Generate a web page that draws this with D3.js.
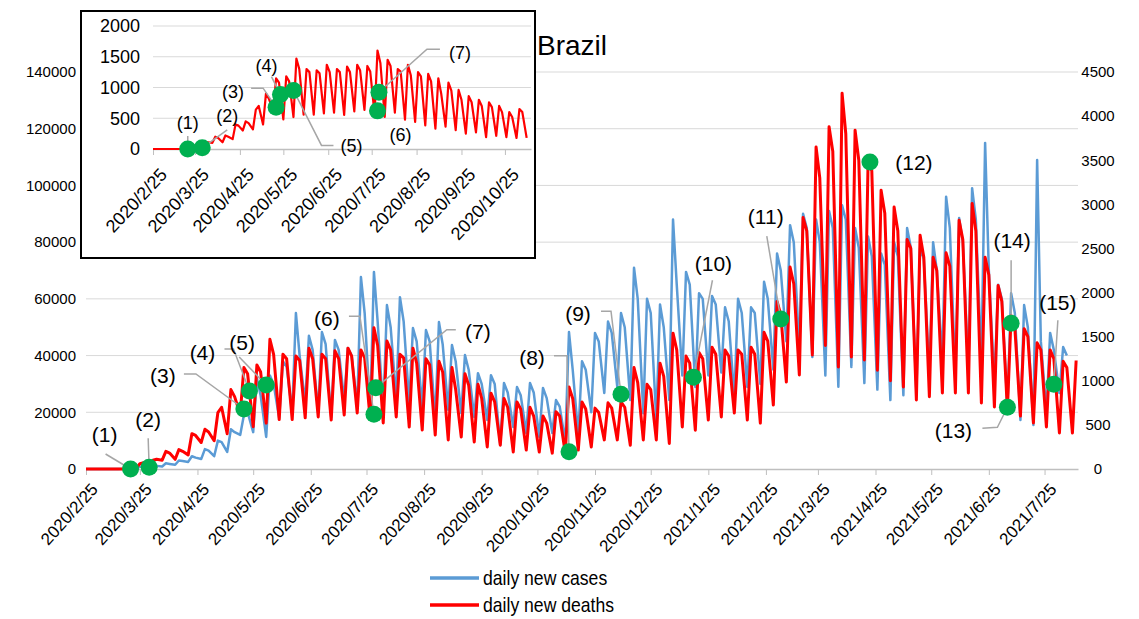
<!DOCTYPE html>
<html>
<head>
<meta charset="utf-8">
<title>Brazil</title>
<style>
  body{margin:0;background:#fff;}
  svg text{font-family:"Liberation Sans",Arial,sans-serif;fill:#000;}
  .grid line{stroke:#d9d9d9;stroke-width:1;}
  .lead{fill:none;stroke:#a6a6a6;stroke-width:1.5;}
</style>
</head>
<body>
<script src="https://d3js.org/d3.v7.min.js"></script>
<script>
// weekly readings, week 0 starts Sun 2020/2/23: low = Monday, high = Wednesday, high2 = Friday
var deathsHigh = [0,0,0,5,60,100,200,220,400,450,640,900,1150,1180,1470,1300,1280,1370,1300,1340,
  1370,1350,1600,1450,1300,1370,1250,1220,1150,1080,960,860,800,760,700,600,650,930,760,690,
  750,760,1150,960,1200,1540,1280,1320,1380,1350,1350,1380,1550,1900,2290,2850,3650,3880,4260,3840,
  3480,3160,2970,2600,2650,2400,2450,2820,3010,2400,2080,1740,1590,1430,1350,1220,1230];
var deathsHigh2 = [0,0,0,10,70,110,180,200,380,420,700,820,1080,1100,1300,1250,1230,1250,1250,1250,
  1280,1260,1400,1350,1260,1200,1180,1100,900,950,800,760,700,680,600,520,600,800,680,640,
  690,700,980,900,1050,1350,1200,1250,1300,1280,1300,1300,1450,1750,2100,2700,3300,3600,3800,3500,
  3380,2900,2700,2500,2400,2250,2300,2600,2700,2200,1900,1600,1500,1350,1250,1150];
var deathsLow = [0,0,0,0,10,40,100,110,160,300,320,400,620,480,520,560,560,580,590,555,
  612,635,560,522,590,476,442,385,330,363,306,250,270,193,215,193,180,180,215,250,
  330,330,270,330,330,290,476,440,555,590,635,555,520,725,986,1066,1293,1400,1156,1270,
  1236,1120,1000,930,782,820,862,862,862,748,703,669,600,522,476,408,408];
var casesHigh = [0,0,0,200,800,1200,2000,3000,4500,7000,10000,14000,19000,32000,33000,38000,55000,47000,48300,45500,
  42700,67700,69500,57800,60600,49700,49000,51800,43700,40200,33800,33100,30300,28900,30300,28600,24300,48300,38000,48000,
  52000,55000,71000,60000,58000,88000,69500,62000,61000,57000,60000,57000,66000,76000,86000,90000,88000,91000,93000,85000,
  82000,76000,80000,85000,78000,80000,96000,88500,99000,115000,65000,62000,57800,109000,48000,43000];
var casesHigh2 = [0,0,0,250,900,1100,1800,2800,4000,6500,9500,13000,20000,26000,30000,36000,40000,42000,44000,42000,
  40000,55000,52000,50000,52000,45000,45000,44000,38000,35000,30000,30000,27000,26000,27000,25000,22000,35000,35000,45000,
  48000,50000,60000,55000,50000,65000,65000,60000,58000,52000,55000,55000,60000,70000,80000,85000,80000,85000,88000,78000,
  75000,72000,75000,78000,74000,70000,85000,80000,88000,70000,60000,55000,50000,45000,42000,40000];
var casesLow = [0,0,0,50,300,700,900,1500,2500,3500,4500,6000,12000,13000,11300,18000,20000,23300,20000,18300,
  24300,22000,20100,20100,24300,23300,21900,17300,20800,19700,18300,17300,8500,14800,12700,11300,12700,9500,12000,20000,
  26800,28900,24300,19700,17300,24300,33000,28900,33000,34000,25400,28900,30000,35000,45000,42000,39500,33000,29000,36000,
  30300,28000,24300,26000,26800,33000,38000,32000,35000,38000,30000,22000,17300,15500,20000,26800];

var leftTicks = [0,20000,40000,60000,80000,100000,120000,140000];
var rightTicks = [0,500,1000,1500,2000,2500,3000,3500,4000,4500];
var insetTicks = [0,500,1000,1500,2000];

// numbered points, deaths scale
var markLabels = ["(1)","(2)","(3)","(4)","(5)","(6)","(7)","(8)","(9)","(10)","(11)","(12)","(13)","(14)","(15)"];
var markDays = [24,34,85,88,97,155,156,260,288,327,374,422,496,498,521];
var markDeaths = [0,20,680,885,952,620,922,196,847,1040,1700,3480,700,1652,960];

// label offset and leader path relative to each point (layout)
var mainLabelPos = [[-26,-34],[-1,-48],[-81,-33],[-47,-38],[-24,-42],[-47,-96],[102,-56],[-37,-94],[-43,-81],[20,-114],[-15,-102],[44,1],[-54,23],[1,-83],[4,-82]];
var mainLeaders = [[[-25,-15]],[[-1,-29]],[[-60,-35],[-48,-35]],[[-25,-42],[-16,-42]],[[-27,-28]],[[-25,-98],[-14,-98]],[[80,-58],[71,-58]],
  [[-15,-96],[-2,-96]],[[-20,-83],[-10,-83]],[[19,-97]],[[-14,-83]],null,[[-25,21],[-10,20]],[[0,-63]],[[4,-64]]];
var insetLabelPos = [[0,-26],[25,-32],[-43,-15],[-14,-29],[58,55],[23,24],[81,-40]];
var insetLeaders = [[[0,-13]],[[25,-18]],[[-25,-19],[-13,-19]],[[-9,-18]],[[40,55],[28,55]],null,[[61,-43],[48,-43]]];

var start = new Date(2020,1,25);
var weekStart = new Date(2020,1,23);
var monthTicks = d3.range(0,18).map(function(k){ return new Date(2020,1+k,25); });
var fmt = function(d){ return d.getFullYear()+"/"+(d.getMonth()+1)+"/"+d.getDate(); };

function series(lows, highs, highs2){
  var pts = [];
  for(var i = 0; i < lows.length; i++){
    if(lows[i] != null) pts.push({date: d3.timeDay.offset(weekStart, 7*i+1), v: lows[i]});
    if(highs[i] != null) pts.push({date: d3.timeDay.offset(weekStart, 7*i+3), v: highs[i]});
    if(highs2[i] != null) pts.push({date: d3.timeDay.offset(weekStart, 7*i+5), v: highs2[i]});
  }
  return pts;
}
var cases = series(casesLow, casesHigh, casesHigh2);
var deaths = series(deathsLow, deathsHigh, deathsHigh2);

var svg = d3.select("body").append("svg").attr("width",1139).attr("height",619);

var x = d3.scaleTime().domain([start, d3.timeDay.offset(start,534)]).range([86,1078]);
var yL = d3.scaleLinear().domain([0,140000]).range([469,72]);
var yR = d3.scaleLinear().domain([0,4500]).range([469,72]);

// grid
svg.append("g").attr("class","grid").selectAll("line").data(leftTicks.slice(1)).enter().append("line")
  .attr("x1",86).attr("x2",1078).attr("y1",function(d){return yL(d);}).attr("y2",function(d){return yL(d);});

// axes
var xAxis = svg.append("g").attr("transform","translate(0,469)")
  .call(d3.axisBottom(x).tickValues(monthTicks).tickFormat(fmt).tickSize(6).tickSizeOuter(0));
xAxis.select(".domain").attr("stroke","#bfbfbf").attr("stroke-width",1.5);
xAxis.selectAll(".tick line").attr("stroke","#bfbfbf");
xAxis.selectAll(".tick text").attr("y",0).attr("dy","0.35em").attr("text-anchor","end")
  .attr("transform","translate(8,17) rotate(-48)").style("font-size","17px");

var lAxis = svg.append("g").attr("transform","translate(76,0)")
  .call(d3.axisLeft(yL).tickValues(leftTicks).tickFormat(d3.format("d")).tickSize(0).tickPadding(0));
lAxis.select(".domain").remove();
lAxis.selectAll("text").style("font-size","15px");

var rAxis = svg.append("g").attr("transform","translate(1098,0)")
  .call(d3.axisRight(yR).tickValues(rightTicks).tickFormat(d3.format("d")).tickSize(0).tickPadding(0));
rAxis.select(".domain").remove();
rAxis.selectAll("text").attr("text-anchor","middle").style("font-size","15px");

svg.append("clipPath").attr("id","mainclip").append("rect").attr("x",86).attr("y",0).attr("width",992).attr("height",472);

var lineC = d3.line().x(function(d){return x(d.date);}).y(function(d){return yL(d.v);});
var lineD = d3.line().x(function(d){return x(d.date);}).y(function(d){return yR(d.v);});
var plot = svg.append("g").attr("clip-path","url(#mainclip)");
plot.append("path").datum(cases).attr("d",lineC).attr("fill","none").attr("stroke","#5b9bd5").attr("stroke-width",2.5).attr("stroke-linejoin","round");
plot.append("path").datum(deaths).attr("d",lineD).attr("fill","none").attr("stroke","#ff0000").attr("stroke-width",3).attr("stroke-linejoin","round");

function annotate(g, xs, ys, idx, labelPos, leaders, fontSize){
  idx.forEach(function(k, j){
    var mx = xs(d3.timeDay.offset(start, markDays[k])), my = ys(markDeaths[k]);
    if(leaders[j]){
      var pts = leaders[j].map(function(p){ return [mx+p[0], my+p[1]]; }).concat([[mx,my]]);
      g.append("path").attr("class","lead").attr("d", d3.line()(pts));
    }
  });
  idx.forEach(function(k){
    var mx = xs(d3.timeDay.offset(start, markDays[k])), my = ys(markDeaths[k]);
    g.append("circle").attr("cx",mx).attr("cy",my).attr("r",8.5).attr("fill","#00b050");
  });
  idx.forEach(function(k, j){
    var mx = xs(d3.timeDay.offset(start, markDays[k])), my = ys(markDeaths[k]);
    g.append("text").attr("x",mx+labelPos[j][0]).attr("y",my+labelPos[j][1]).attr("dy","0.35em")
      .attr("text-anchor","middle").style("font-size",fontSize).text(markLabels[k]);
  });
}
annotate(svg.append("g"), x, yR, d3.range(0,15), mainLabelPos, mainLeaders, "21px");

svg.append("text").attr("x",537).attr("y",55).style("font-size","28px").text("Brazil");

// legend
var legend = svg.append("g");
[["daily new cases","#5b9bd5",578],["daily new deaths","#ff0000",605]].forEach(function(l){
  legend.append("line").attr("x1",430).attr("x2",479).attr("y1",l[2]).attr("y2",l[2]).attr("stroke",l[1]).attr("stroke-width",3.5);
  legend.append("text").attr("transform","translate(483,"+l[2]+") scale(0.88,1)").attr("dy","0.35em").style("font-size","20px").text(l[0]);
});

// inset
var inset = svg.append("g");
inset.append("rect").attr("x",81).attr("y",11).attr("width",454).attr("height",247).attr("fill","#fff").attr("stroke","#000").attr("stroke-width",2);
var insetEnd = d3.timeDay.offset(start,261);
var xi = d3.scaleTime().domain([start, insetEnd]).range([153,531]);
var yi = d3.scaleLinear().domain([0,2000]).range([149,26]);
inset.append("g").attr("class","grid").selectAll("line").data(insetTicks.slice(1)).enter().append("line")
  .attr("x1",153).attr("x2",531).attr("y1",function(d){return yi(d);}).attr("y2",function(d){return yi(d);});
var xiAxis = inset.append("g").attr("transform","translate(0,149)")
  .call(d3.axisBottom(xi).tickValues(monthTicks.slice(0,9)).tickFormat(fmt).tickSize(6).tickSizeOuter(0));
xiAxis.select(".domain").attr("stroke","#bfbfbf").attr("stroke-width",1.5);
xiAxis.selectAll(".tick line").attr("stroke","#bfbfbf");
xiAxis.selectAll(".tick text").attr("y",0).attr("dy","0.35em").attr("text-anchor","end")
  .attr("transform","translate(10,22) rotate(-47)").style("font-size","18px");
var yiAxis = inset.append("g").attr("transform","translate(140,0)")
  .call(d3.axisLeft(yi).tickValues(insetTicks).tickFormat(d3.format("d")).tickSize(0).tickPadding(0));
yiAxis.select(".domain").remove();
yiAxis.selectAll("text").style("font-size","18px");
var lineI = d3.line().x(function(d){return xi(d.date);}).y(function(d){return yi(d.v);});
inset.append("clipPath").attr("id","insetclip").append("rect").attr("x",153).attr("y",11).attr("width",378).attr("height",140);
inset.append("path").datum(deaths.filter(function(d){ return d.date <= d3.timeDay.offset(start,259); }))
  .attr("clip-path","url(#insetclip)").attr("d",lineI).attr("fill","none").attr("stroke","#ff0000").attr("stroke-width",2.2).attr("stroke-linejoin","round");
annotate(inset.append("g"), xi, yi, d3.range(0,7), insetLabelPos, insetLeaders, "18px");
</script>
</body>
</html>
